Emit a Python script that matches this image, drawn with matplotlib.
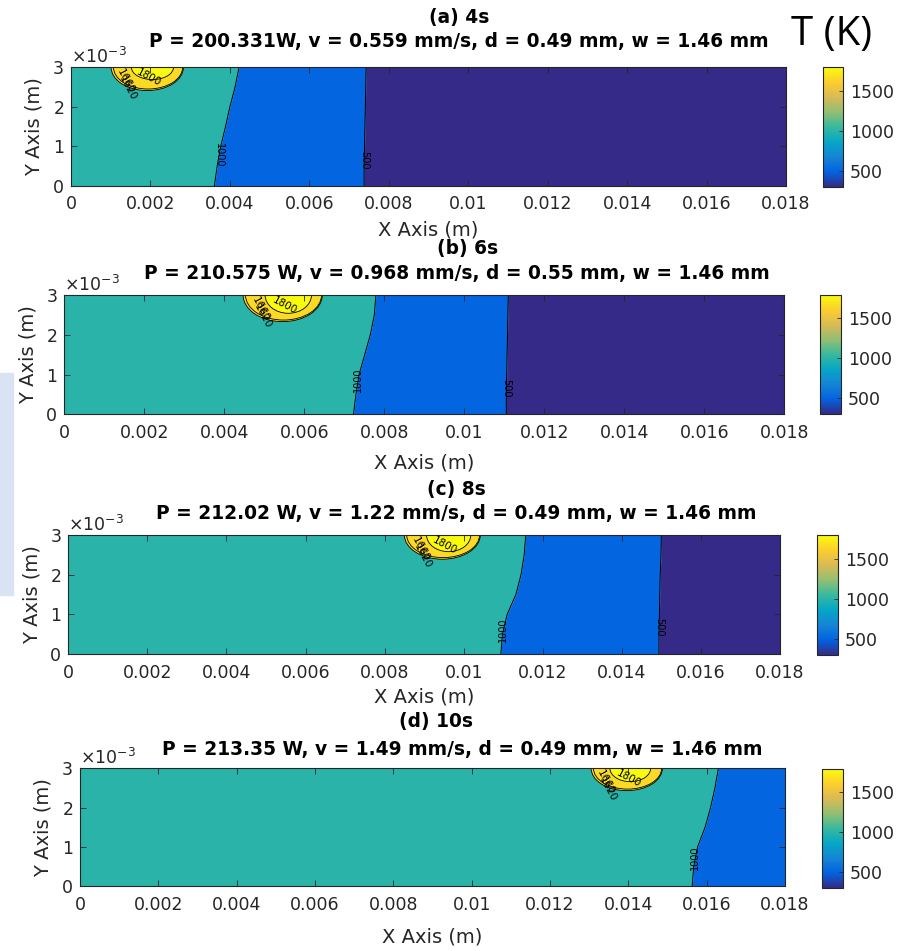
import numpy as np
import matplotlib
matplotlib.use('Agg')
import matplotlib.pyplot as plt
from matplotlib.colors import LinearSegmentedColormap, Normalize
from matplotlib.patches import Ellipse, Rectangle
import matplotlib.cm as cm

# ---------------- data ----------------
PANEL_LABELS = ['(a) 4s', '(b) 6s', '(c) 8s', '(d) 10s']
PANEL_PARAMS = [
    'P = 200.331W, v = 0.559 mm/s, d = 0.49 mm, w = 1.46 mm',
    'P = 210.575 W, v = 0.968 mm/s, d = 0.55 mm, w = 1.46 mm',
    'P = 212.02 W, v = 1.22 mm/s, d = 0.49 mm, w = 1.46 mm',
    'P = 213.35 W, v = 1.49 mm/s, d = 0.49 mm, w = 1.46 mm',
]

X_TICKS = [0, 0.002, 0.004, 0.006, 0.008, 0.010, 0.012, 0.014, 0.016, 0.018]
X_TICK_LABELS = ['0', '0.002', '0.004', '0.006', '0.008', '0.01', '0.012', '0.014', '0.016', '0.018']
Y_TICKS = [0, 1e-3, 2e-3, 3e-3]
CBAR_TICKS = [500, 1000, 1500]
T_MIN, T_MAX = 300, 1795

# contour levels (K): ambient, 500, 1000, 1620, 1660, 1800
LEVELS = [300, 500, 1000, 1620, 1660, 1800]

# heights (m) at which isotherm x-positions were read
Y_PTS = [0, 0.5e-3, 1.0e-3, 1.5e-3, 2.0e-3, 2.5e-3, 3.0e-3]

ISO1000_X = [
    [0.00361, 0.00368, 0.00377, 0.00389, 0.00400, 0.00413, 0.00423],
    [0.00723, 0.00729, 0.00737, 0.00751, 0.00765, 0.00775, 0.00779],
    [0.01094, 0.01098, 0.01110, 0.01132, 0.01145, 0.01153, 0.01157],
    [0.01563, 0.01567, 0.01577, 0.01596, 0.01610, 0.01621, 0.01630],
]
ISO500_X = [
    [0.00738, 0.00738, 0.00739, 0.00740, 0.00741, 0.00742, 0.00743],
    [0.01105, 0.01105, 0.01106, 0.01107, 0.01108, 0.01109, 0.01110],
    [0.01494, 0.01494, 0.01495, 0.01496, 0.01497, 0.01499, 0.01500],
    None,
]

# melt-pool isotherms (centre x, half-width, depth) in m
POOL_1620 = [(0.00192, 0.00091, 0.59e-3), (0.00546, 0.00099, 0.67e-3),
             (0.00946, 0.00096, 0.61e-3), (0.01396, 0.00091, 0.57e-3)]
POOL_1660 = [(0.00194, 0.00087, 0.55e-3), (0.00548, 0.00095, 0.63e-3),
             (0.00948, 0.00092, 0.57e-3), (0.01398, 0.00087, 0.53e-3)]
POOL_1800 = [(0.00205, 0.00053, 0.31e-3), (0.00560, 0.00058, 0.46e-3),
             (0.00962, 0.00056, 0.42e-3), (0.01405, 0.00052, 0.34e-3)]

# heights of the inline contour labels
LABEL_Y_1000 = [0.78e-3, 0.86e-3, 0.60e-3, 0.71e-3]
LABEL_Y_500 = [0.65e-3, 0.66e-3, 0.68e-3, None]
LABEL_ROT_1000 = [-90, 90, 90, 90]

# ---------------- style / layout ----------------
PARULA = [(0.2081, 0.1663, 0.5292), (0.0117, 0.3875, 0.8820), (0.0793, 0.5200, 0.8312),
          (0.0228, 0.6535, 0.7768), (0.2178, 0.7250, 0.6193), (0.5709, 0.7485, 0.4494),
          (0.8507, 0.7299, 0.3360), (0.9880, 0.8066, 0.1794), (0.9763, 0.9831, 0.0538)]
cmap = LinearSegmentedColormap.from_list('parula', PARULA, N=256)
norm = Normalize(T_MIN, T_MAX)
GRAY = '#262626'

W, H = 911, 951
fig = plt.figure(figsize=(W / 100, H / 100), dpi=100)
plt.rcParams['font.family'] = 'DejaVu Sans'

AX_PX = [(71, 67.3, 786, 185.7), (64.3, 295, 784.3, 414.3),
         (68.3, 535, 780, 654), (80, 768.3, 785, 886)]
CB_PX = [(823, 67, 843, 187), (820, 295, 841, 414),
         (817, 535, 838, 655), (822, 769, 843, 888)]
TITLE1_PX = [(459, 17), (468, 249), (456, 490), (436, 722)]
TITLE2_PX = [(459, 42), (457, 274), (456, 513), (462, 749)]
XLABEL_PAD = [5, 8, 4, 10]


def add_px_axes(l, t, r, b):
    return fig.add_axes([l / W, 1 - b / H, (r - l) / W, (b - t) / H])


fig.patches.append(Rectangle((0, 1 - 595 / H), 13 / W, (595 - 373) / H,
                             transform=fig.transFigure, color='#dae3f3', zorder=0))

for i in range(4):
    ax = add_px_axes(*AX_PX[i])
    ymax = Y_PTS[-1]
    x1000 = ISO1000_X[i]
    x500 = ISO500_X[i]
    c300, c500, c1000, c1620, c1660, c1800 = [cmap(norm(v)) for v in LEVELS]

    ax.fill_betweenx(Y_PTS, 0, x1000, color=c1000, lw=0)
    if x500 is not None:
        ax.fill_betweenx(Y_PTS, x1000, x500, color=c500, lw=0)
        ax.fill_betweenx(Y_PTS, x500, X_TICKS[-1], color=c300, lw=0)
        ax.plot(x500, Y_PTS, color='black', lw=0.7)
    else:
        ax.fill_betweenx(Y_PTS, x1000, X_TICKS[-1], color=c500, lw=0)
    ax.plot(x1000, Y_PTS, color='black', lw=0.7)

    for pool, col in ((POOL_1620[i], c1620), (POOL_1660[i], c1660), (POOL_1800[i], c1800)):
        cx, hw, dep = pool
        ax.add_patch(Ellipse((cx, ymax), 2 * hw, 2 * dep, facecolor=col,
                             edgecolor='black', lw=0.6))

    # inline labels
    ly = LABEL_Y_1000[i]
    ax.text(np.interp(ly, Y_PTS, x1000), ly, '1000', rotation=LABEL_ROT_1000[i],
            fontsize=7, ha='center', va='center', color='black')
    if x500 is not None:
        ly = LABEL_Y_500[i]
        ax.text(np.interp(ly, Y_PTS, x500), ly, '500', rotation=-90,
                fontsize=7, ha='center', va='center', color='black')
    cx, hw, dep = POOL_1620[i]
    ax.text(cx + 0.00005, ymax - 0.27e-3, '1800', rotation=-28, fontsize=7.5,
            ha='center', va='center', color='black')
    ax.text(cx - 0.00054, ymax - 0.36e-3, '1660', rotation=-62, fontsize=7.5,
            ha='center', va='center', color='black')
    ax.text(cx - 0.00050, ymax - 0.54e-3, '1620', rotation=-62, fontsize=7.5,
            ha='center', va='center', color='black')

    ax.set_xlim(X_TICKS[0], X_TICKS[-1])
    ax.set_ylim(Y_TICKS[0], Y_TICKS[-1])
    ax.set_xticks(X_TICKS)
    ax.set_xticklabels(X_TICK_LABELS)
    ax.set_yticks(Y_TICKS)
    ax.ticklabel_format(axis='y', style='sci', scilimits=(-3, -3), useMathText=True)
    ax.yaxis.get_offset_text().set_fontsize(12.5)
    ax.yaxis.get_offset_text().set_color(GRAY)
    ax.tick_params(direction='in', top=True, right=True, length=4, width=0.6,
                   labelsize=12.5, colors=GRAY, pad=5)
    ax.tick_params(axis='x', pad=7)
    for s in ax.spines.values():
        s.set_color(GRAY)
        s.set_linewidth(0.8)
    ax.set_xlabel('X Axis (m)', fontsize=14, color=GRAY, labelpad=XLABEL_PAD[i])
    ax.set_ylabel('Y Axis (m)', fontsize=14, color=GRAY, labelpad=6)

    # colorbar
    cax = add_px_axes(*CB_PX[i])
    sm = cm.ScalarMappable(norm=norm, cmap=cmap)
    cb = fig.colorbar(sm, cax=cax, ticks=CBAR_TICKS)
    cb.outline.set_edgecolor(GRAY)
    cb.outline.set_linewidth(0.8)
    cax.tick_params(direction='in', length=3, width=0.6, labelsize=12.5, colors=GRAY, pad=5)

    # titles
    fig.text(TITLE1_PX[i][0] / W, 1 - TITLE1_PX[i][1] / H, PANEL_LABELS[i],
             fontsize=13.4, fontweight='bold', ha='center', va='center')
    fig.text(TITLE2_PX[i][0] / W, 1 - TITLE2_PX[i][1] / H, PANEL_PARAMS[i],
             fontsize=13.4, fontweight='bold', ha='center', va='center')

fig.text(832 / W, 1 - 35 / H, 'T (K)', fontsize=29, family='Open Sans',
         ha='center', va='center', color='black')

fig.savefig('out.png', dpi=100)
